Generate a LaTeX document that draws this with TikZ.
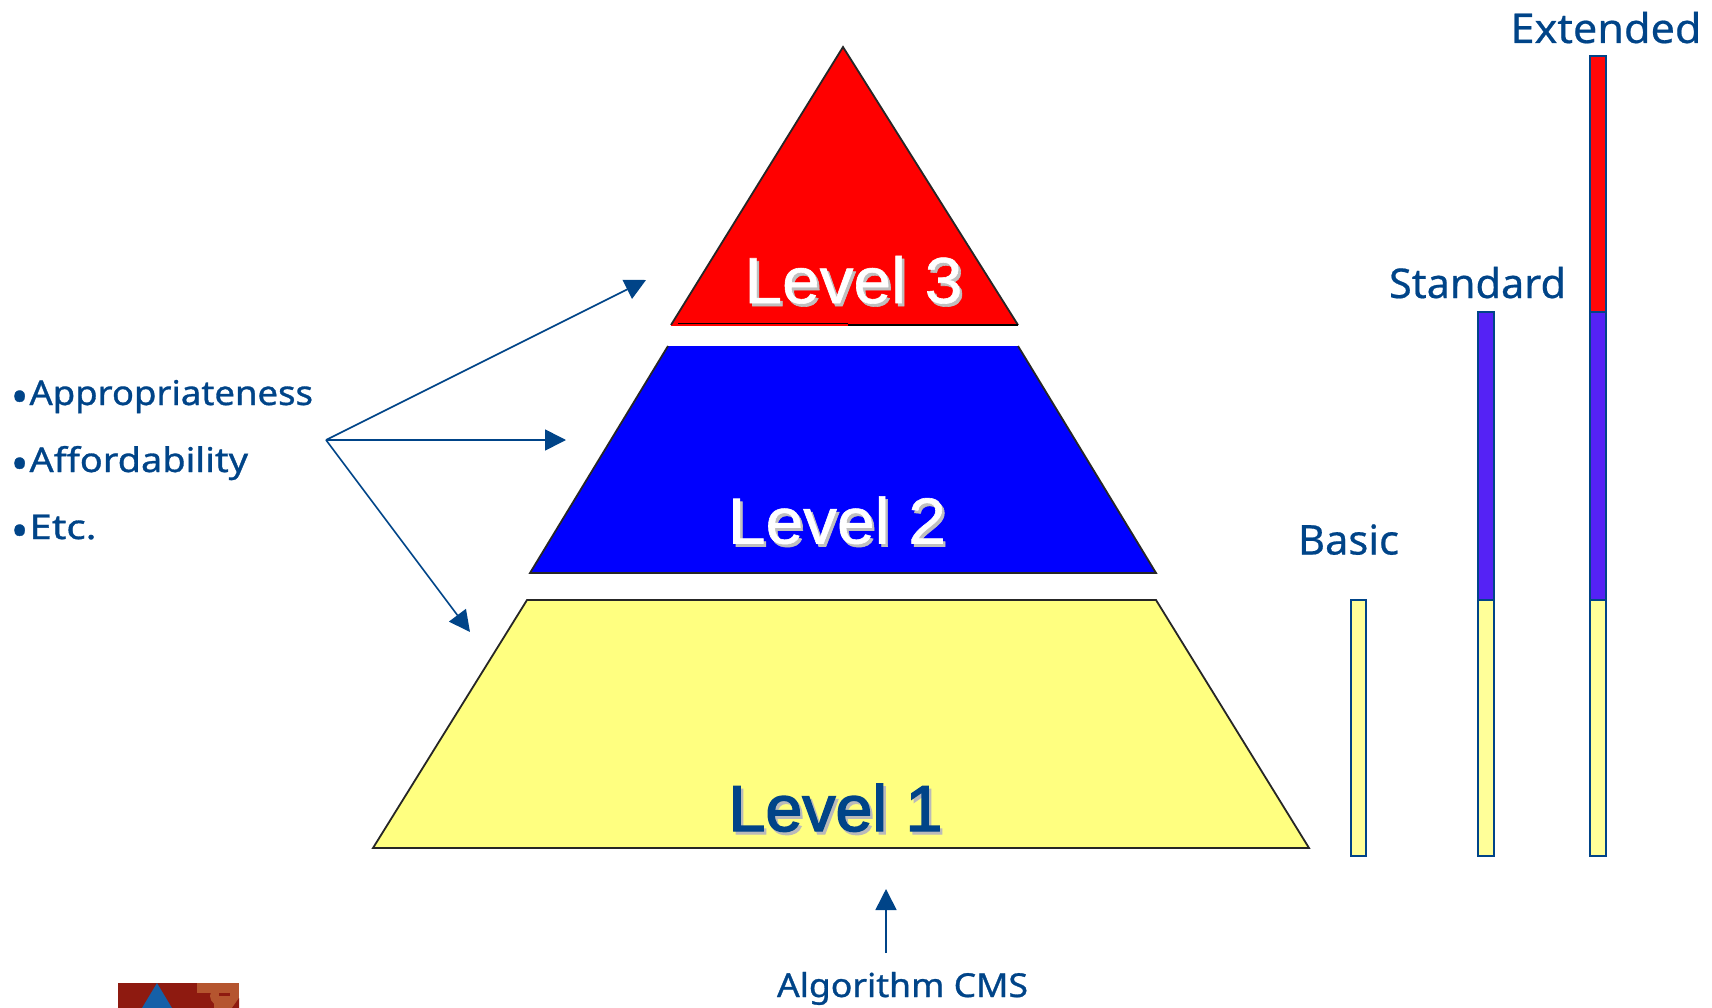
\documentclass[tikz,border=0pt]{standalone}
\usepackage{fontspec}
\usepackage{graphicx}
\usetikzlibrary{arrows.meta}
\newfontfamily\lablight{Noto Sans}[FakeBold=0.5]
\newfontfamily\labbold{Noto Sans}[FakeBold=0.9]
\newfontfamily\levfont{Liberation Sans}[FakeBold=0.9]
\newfontfamily\levfontb{Liberation Sans}[FakeBold=2.2]
\definecolor{navy}{HTML}{004488}
\definecolor{vio}{HTML}{5522F5}
\definecolor{barred}{HTML}{FF0808}
\definecolor{baryel}{HTML}{FFFF99}
\definecolor{pyel}{HTML}{FFFF80}
\definecolor{logored}{HTML}{8E1A10}
\definecolor{logoor}{HTML}{B5552F}
\definecolor{logobl}{HTML}{1560A8}
% text squeezed to an exact width
\newsavebox\fitbox
\newcommand\fitw[2]{\sbox\fitbox{#2}\pgfmathsetmacro\fitr{#1/\the\wd\fitbox}\scalebox{\fitr}[1]{\usebox\fitbox}}
\tikzset{
  x=1pt,y=-1pt,
  lab/.style={anchor=base west,inner sep=0pt,outer sep=0pt,text=navy},
  lev/.style={anchor=base west,inner sep=0pt,outer sep=0pt},
  arr/.style={navy,line width=1.6pt,-{Triangle[length=21pt,width=21pt]}},
  bar/.style={draw=navy,line width=2pt},
  edge/.style={draw=black!85,line width=1.8pt,line join=miter}
}
\begin{document}
\begin{tikzpicture}
\useasboundingbox (0,0) rectangle (1712,1008);
% pyramid
\fill[red] (843,47) -- (1018,325) -- (671,325) -- cycle;
\draw[edge] (671,325) -- (843,47) -- (1018,325);
\draw[black,line width=1.3pt] (1018,325) -- (848,325);
\draw[black,line width=1.4pt] (678,323.5) -- (848,323.5);
\draw[red,line width=1pt] (671,325.3) -- (848,325.3);
\fill[blue] (668,346) -- (1018,346) -- (1156,573) -- (530,573) -- cycle;
\draw[edge] (668,346) -- (530,573) -- (1156,573) -- (1018,346);
\fill[pyel] (527,600) -- (1156,600) -- (1309,848) -- (373,848) -- cycle;
\draw[edge] (373,848) -- (527,600) -- (1156,600) -- (1309,848) -- cycle;
% level labels
\node[lev,text=black!25] at (747,306) {\fitw{218}{\fontsize{65}{65}\levfont Level 3}};
\node[lev,text=white] (l3) at (744.5,303) {\fitw{218}{\fontsize{65}{65}\levfont Level 3}};
\node[lev,text=black!25] at (730.5,546.5) {\fitw{218}{\fontsize{65}{65}\levfont Level 2}};
\node[lev,text=white] (l2) at (728,543.5) {\fitw{218}{\fontsize{65}{65}\levfont Level 2}};
\node[lev,text=black!27] at (731,834) {\fitw{214}{\fontsize{65}{65}\levfontb Level 1}};
\node[lev,text=navy] (l1) at (728.5,831) {\fitw{214}{\fontsize{65}{65}\levfontb Level 1}};
% bars
\draw[bar,fill=baryel] (1350.5,600) rectangle (1366,856);
\draw[bar,fill=vio] (1478,312) rectangle (1494,600);
\draw[bar,fill=baryel] (1478,600) rectangle (1494,856);
\draw[bar,fill=barred] (1590,56) rectangle (1606,312);
\draw[bar,fill=vio] (1590,312) rectangle (1606,600);
\draw[bar,fill=baryel] (1590,600) rectangle (1606,856);
% bar labels
\node[lab] (ext) at (1510.5,43) {\fitw{191}{\fontsize{41}{41}\lablight Extended}};
\node[lab] (std) at (1389,298) {\fitw{177}{\fontsize{41}{41}\lablight Standard}};
\node[lab] (bas) at (1298,554.5) {\fitw{101}{\fontsize{41}{41}\lablight Basic}};
% list
\node[lab] at (11,413) {\fontsize{46}{46}\labbold •};
\node[lab] at (11,480) {\fontsize{46}{46}\labbold •};
\node[lab] at (11,547) {\fontsize{46}{46}\labbold •};
\node[lab] (a) at (29.5,405) {\fitw{283.5}{\fontsize{34}{34}\labbold Appropriateness}};
\node[lab] (b) at (29.5,472) {\fitw{218.5}{\fontsize{34}{34}\labbold Affordability}};
\node[lab] (c) at (29.5,539) {\fitw{67}{\fontsize{34}{34}\labbold Etc.}};
\node[lab] (cms) at (777,997) {\fitw{251}{\fontsize{33}{33}\labbold Algorithm CMS}};
% arrows
\coordinate (o) at (326,440);
\coordinate (t3) at (646,280);
\coordinate (t2) at (566,440);
\coordinate (t1) at (470,632);
\coordinate (cmstip) at (886,889);
\coordinate (cmstail) at (886,953);
\draw[arr] (o) -- (t3);
\draw[arr] (o) -- (t2);
\draw[arr] (o) -- (t1);
\draw[arr] (cmstail) -- (cmstip);
% logo
\begin{scope}
\clip (118,983) rectangle (239,1008);
\fill[logored] (118,983) rectangle (197,1008);
\fill[logoor] (197,983) rectangle (239,1008);
\fill[logobl] (157,983) -- (172,1008) -- (142,1008) -- cycle;
\fill[logored] (197,993) rectangle (214,1008);
\fill[logoor] (224,996) ellipse (14 and 11);
\fill[logored] (219,992.5) rectangle (230,995.5);
\fill[logored] (232,1008) -- (239,998) -- (239,1008) -- cycle;
\fill[logored] (197,1008) rectangle (197,1008);
\end{scope}
\end{tikzpicture}
\end{document}
